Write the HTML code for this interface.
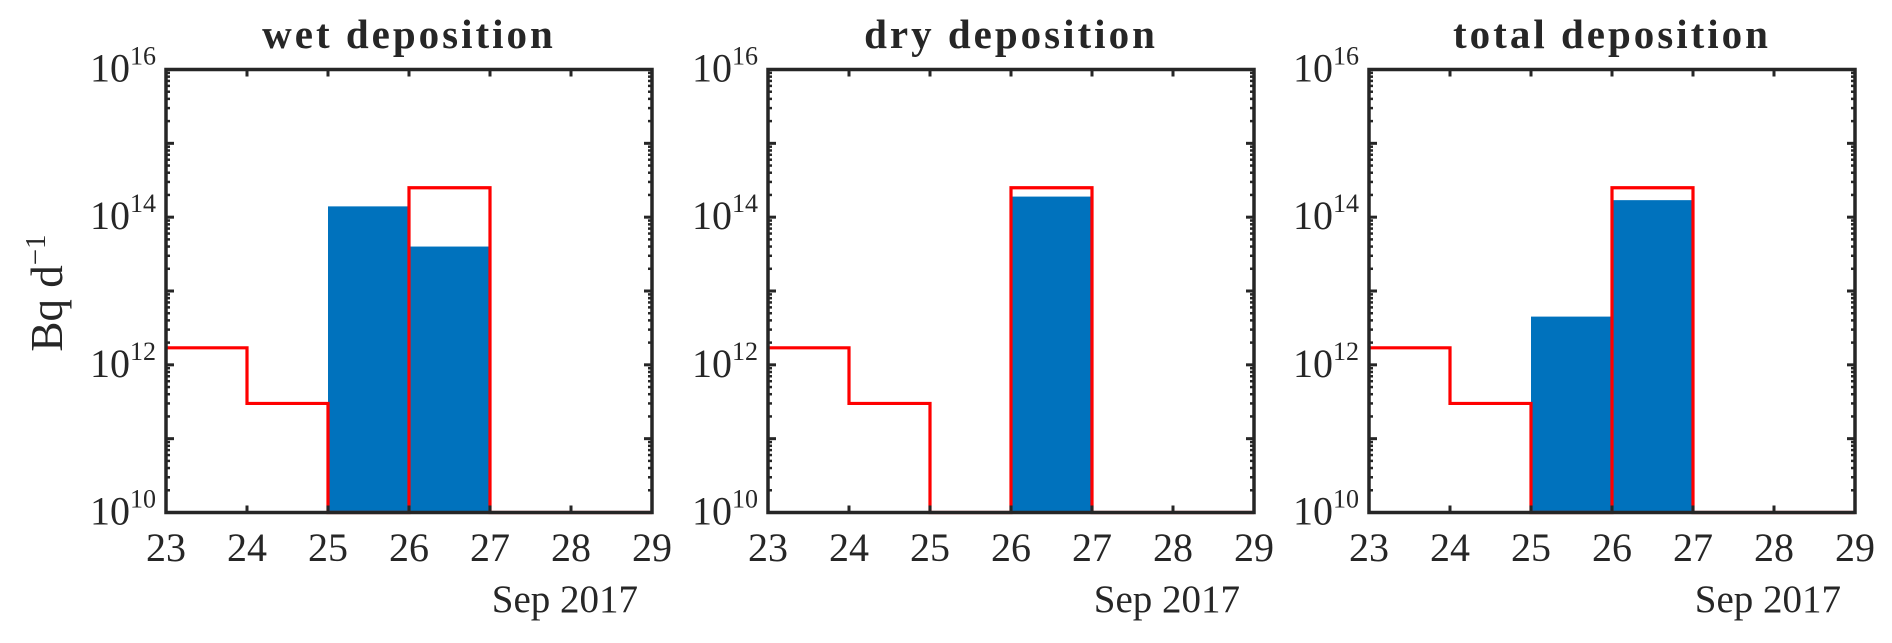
<!DOCTYPE html>
<html><head><meta charset="utf-8"><style>
body{margin:0;background:#fff;width:1892px;height:638px;overflow:hidden}
svg text{font-family:"Liberation Serif",serif;fill:#262626}
</style></head><body>
<svg id="chart" width="1892" height="638" viewBox="0 0 1892 638" xmlns="http://www.w3.org/2000/svg"></svg>
<script>
const days = [23,24,25,26,27,28,29];
const yExps = [10,12,14,16];
const panelTitles = ["wet deposition","dry deposition","total deposition"];
const wetBlue = [0,0,1.4e14,4e13,0,0];
const dryBlue = [0,0,0,1.9e14,0,0];
const totalBlue = [0,0,4.5e12,1.7e14,0,0];
const redValues = [1.7e12,3e11,0,2.5e14,0,0];
const blueSeries = [wetBlue,dryBlue,totalBlue];

const NS="http://www.w3.org/2000/svg";
const svg=document.getElementById('chart');
const panelLeft=[166,768,1369], W=486, TOP=69.5, BOT=512.5;
function mk(tag,attrs,parent){const e=document.createElementNS(NS,tag);for(const k in attrs)e.setAttribute(k,attrs[k]);(parent||svg).appendChild(e);return e;}
function yScale(v){const lo=10,hi=16;let l=v>0?Math.log10(v):lo;l=Math.max(lo,Math.min(hi,l));return BOT-(l-lo)/(hi-lo)*(BOT-TOP);}

panelTitles.forEach((title,p)=>{
  const L=panelLeft[p];
  const xScale=d=>L+(d-days[0])/(days[days.length-1]-days[0])*W;
  const g=mk('g',{});
  
  
  blueSeries[p].forEach((v,i)=>{
    if(v<=0)return;
    const x0=xScale(days[i]),x1=xScale(days[i+1]),y=yScale(v);
    const r=mk('rect',{x:x0,y:y,width:x1-x0,height:BOT-y,fill:'#0072BD'},g);
    
    
  });
  let d='';
  redValues.forEach((v,i)=>{
    const x0=xScale(days[i]),x1=xScale(days[i+1]),y=yScale(v);
    d+=(i===0?'M':'L')+x0+','+y+' L'+x1+','+y+' ';
  });
  const path=mk('path',{d:d,fill:'none',stroke:'#FF0000','stroke-width':3.2},g);
  
  
  const box=mk('rect',{x:L,y:TOP,width:W,height:BOT-TOP,fill:'none',stroke:'#262626','stroke-width':3.5},g);
  
  
  days.forEach(dd=>{
    const x=xScale(dd);
    mk('line',{x1:x,x2:x,y1:BOT,y2:BOT-7,stroke:'#262626','stroke-width':3},g);
    mk('line',{x1:x,x2:x,y1:TOP,y2:TOP+7,stroke:'#262626','stroke-width':3},g);
    const t=mk('text',{x:x,y:561,'font-size':40,'text-anchor':'middle'},g);
    t.textContent=dd;
    
    
  });
  for(let e=10;e<=16;e++){
    const y=yScale(Math.pow(10,e));
    mk('line',{x1:L,x2:L+8,y1:y,y2:y,stroke:'#262626','stroke-width':3},g);
    mk('line',{x1:L+W,x2:L+W-8,y1:y,y2:y,stroke:'#262626','stroke-width':3},g);
    if(e<16){for(let m=2;m<=9;m++){const ym=yScale(m*Math.pow(10,e));
      mk('line',{x1:L,x2:L+4,y1:ym,y2:ym,stroke:'#262626','stroke-width':2.5},g);
      mk('line',{x1:L+W,x2:L+W-4,y1:ym,y2:ym,stroke:'#262626','stroke-width':2.5},g);}}
  }
  yExps.forEach(e=>{
    const y=yScale(Math.pow(10,e));
    const t=mk('text',{x:L-10,y:y+12,'font-size':40,'text-anchor':'end'},g);
    
    
    const a=mk('tspan',{},t);a.textContent='10';
    const b=mk('tspan',{'font-size':26,dy:-17},t);b.textContent=String(e);
  });
  const tt=mk('text',{x:L+W/2,y:48,'font-size':41,'font-weight':'bold','text-anchor':'middle','letter-spacing':3},g);
  tt.textContent=title;
  
  
  const sx=mk('text',{x:L+W-14,y:612,'font-size':39,'text-anchor':'end'},g);
  sx.textContent='Sep 2017';
  
  
});
const yl=mk('text',{x:0,y:0,'font-size':45,'text-anchor':'middle',transform:'translate(62,293) rotate(-90)'});


const y1=mk('tspan',{},yl);y1.textContent='Bq d';
const y2=mk('tspan',{'font-size':29,dy:-17},yl);y2.textContent='−1';
</script>
</body></html>
